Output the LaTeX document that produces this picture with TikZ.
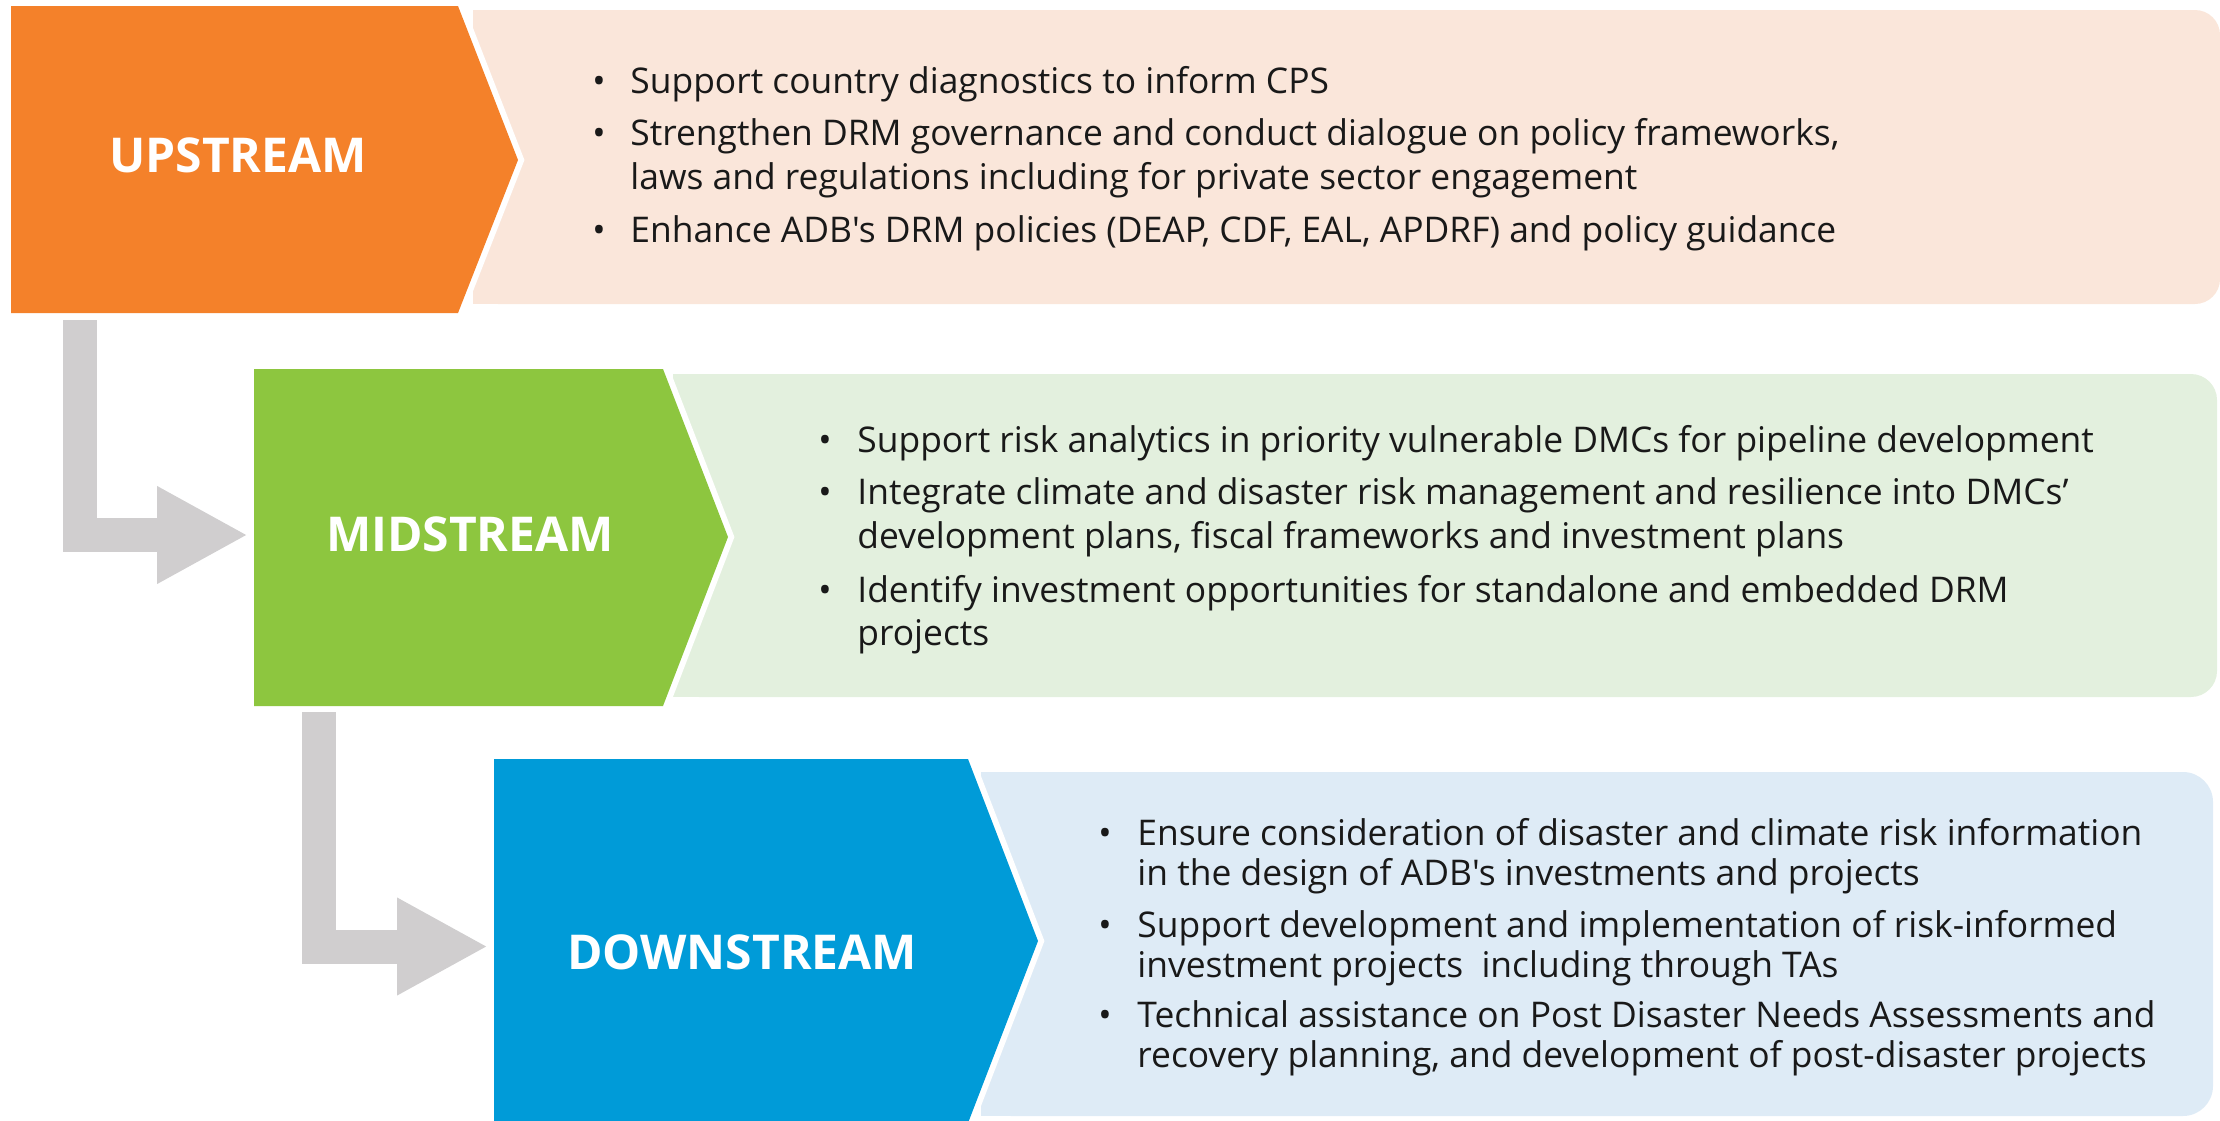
\documentclass[tikz,border=0pt]{standalone}
\usepackage{fontspec}
\setmainfont{Open Sans}[Ligatures=TeXOff]
\usetikzlibrary{arrows.meta}
\definecolor{upC}{HTML}{F4812A}
\definecolor{upL}{HTML}{FAE6DA}
\definecolor{midC}{HTML}{8DC63F}
\definecolor{midL}{HTML}{E3F0DE}
\definecolor{downC}{HTML}{009BD8}
\definecolor{downL}{HTML}{DEEBF6}
\definecolor{grayA}{HTML}{D0CECF}
\begin{document}
\begin{tikzpicture}[x=0.5pt,y=-0.5pt,
  title/.style={anchor=base,text=white,font=\fontsize{24pt}{28pt}\selectfont\bfseries,inner sep=0pt},
  item/.style={anchor=base west,text=black!90,font=\fontsize{17.7pt}{22pt}\selectfont,inner sep=0pt},
  bul/.style={anchor=base,text=black!90,font=\fontsize{17.7pt}{22pt}\selectfont,inner sep=0pt},
  halo/.style={draw=white,line width=6pt,line join=miter},
  flowarrow/.style={draw=grayA,line width=17pt,line join=miter,-{Triangle[length=45.5pt,width=45.5pt]}}]
\useasboundingbox (0,0) rectangle (2220,1120);
% panels
\fill[upL,rounded corners=12.5pt] (473,10) rectangle (2220,304);
\fill[upL] (473,10) rectangle (700,304);
\fill[midL,rounded corners=13pt] (673,374) rectangle (2217,697);
\fill[midL] (673,374) rectangle (900,697);
\fill[downL,rounded corners=15pt] (981,772) rectangle (2213,1116);
\fill[downL] (981,772) rectangle (1200,1116);
% chevrons
\draw[halo] (11,6) -- (458,6) -- (518,160) -- (458,313) -- (11,313) -- cycle;
\fill[upC] (11,6) -- (458,6) -- (518,160) -- (458,313) -- (11,313) -- cycle;
\draw[halo] (254,369) -- (663,369) -- (728,537) -- (663,706) -- (254,706) -- cycle;
\fill[midC] (254,369) -- (663,369) -- (728,537) -- (663,706) -- (254,706) -- cycle;
\draw[halo] (494,759) -- (968,759) -- (1038,941) -- (968,1123) -- (494,1123) -- cycle;
\fill[downC] (494,759) -- (968,759) -- (1038,941) -- (968,1123) -- (494,1123) -- cycle;
% titles
\node[title] (up) at (238,172) {UPSTREAM};
\node[title] (mid) at (470,551) {MIDSTREAM};
\node[title] (down) at (742,969) {DOWNSTREAM};
% connectors
\coordinate (upS) at (80,320);
\coordinate (midW) at (248,535);
\coordinate (midS) at (319,712);
\coordinate (downW) at (488,946.5);
\draw[flowarrow] (upS) |- (midW);
\draw[flowarrow] (midS) |- (downW);
% upstream items
\node[bul] (ub1) at (599,93) {•};
\node[item] (u1) at (630,93) {Support country diagnostics to inform CPS};
\node[bul] (ub2) at (599,145) {•};
\node[item] (u2) at (630,145) {Strengthen DRM governance and conduct dialogue on policy frameworks,};
\node[item] (u3) at (630,189) {laws and regulations including for private sector engagement};
\node[bul] (ub3) at (599,242) {•};
\node[item] (u4) at (630,242) {Enhance ADB's DRM policies (DEAP, CDF, EAL, APDRF) and policy guidance};
% midstream items
\node[bul] (mb1) at (825,452) {•};
\node[item] (m1) at (857,452) {Support risk analytics in priority vulnerable DMCs for pipeline development};
\node[bul] (mb2) at (825,504) {•};
\node[item] (m2) at (857,504) {Integrate climate and disaster risk management and resilience into DMCs’};
\node[item] (m3) at (857,548) {development plans, fiscal frameworks and investment plans};
\node[bul] (mb3) at (825,602) {•};
\node[item] (m4) at (857,602) {Identify investment opportunities for standalone and embedded DRM};
\node[item] (m5) at (857,645) {projects};
% downstream items
\node[bul] (db1) at (1105,845) {•};
\node[item] (d1) at (1137,845) {Ensure consideration of disaster and climate risk information};
\node[item] (d2) at (1137,885) {in the design of ADB's investments and projects};
\node[bul] (db2) at (1105,937) {•};
\node[item] (d3) at (1137,937) {Support development and implementation of risk-informed};
\node[item] (d4) at (1137,977) {investment projects\ \ including through TAs};
\node[bul] (db3) at (1105,1027) {•};
\node[item] (d5) at (1137,1027) {Technical assistance on Post Disaster Needs Assessments and};
\node[item] (d6) at (1137,1067) {recovery planning, and development of post-disaster projects};
\end{tikzpicture}
\end{document}
